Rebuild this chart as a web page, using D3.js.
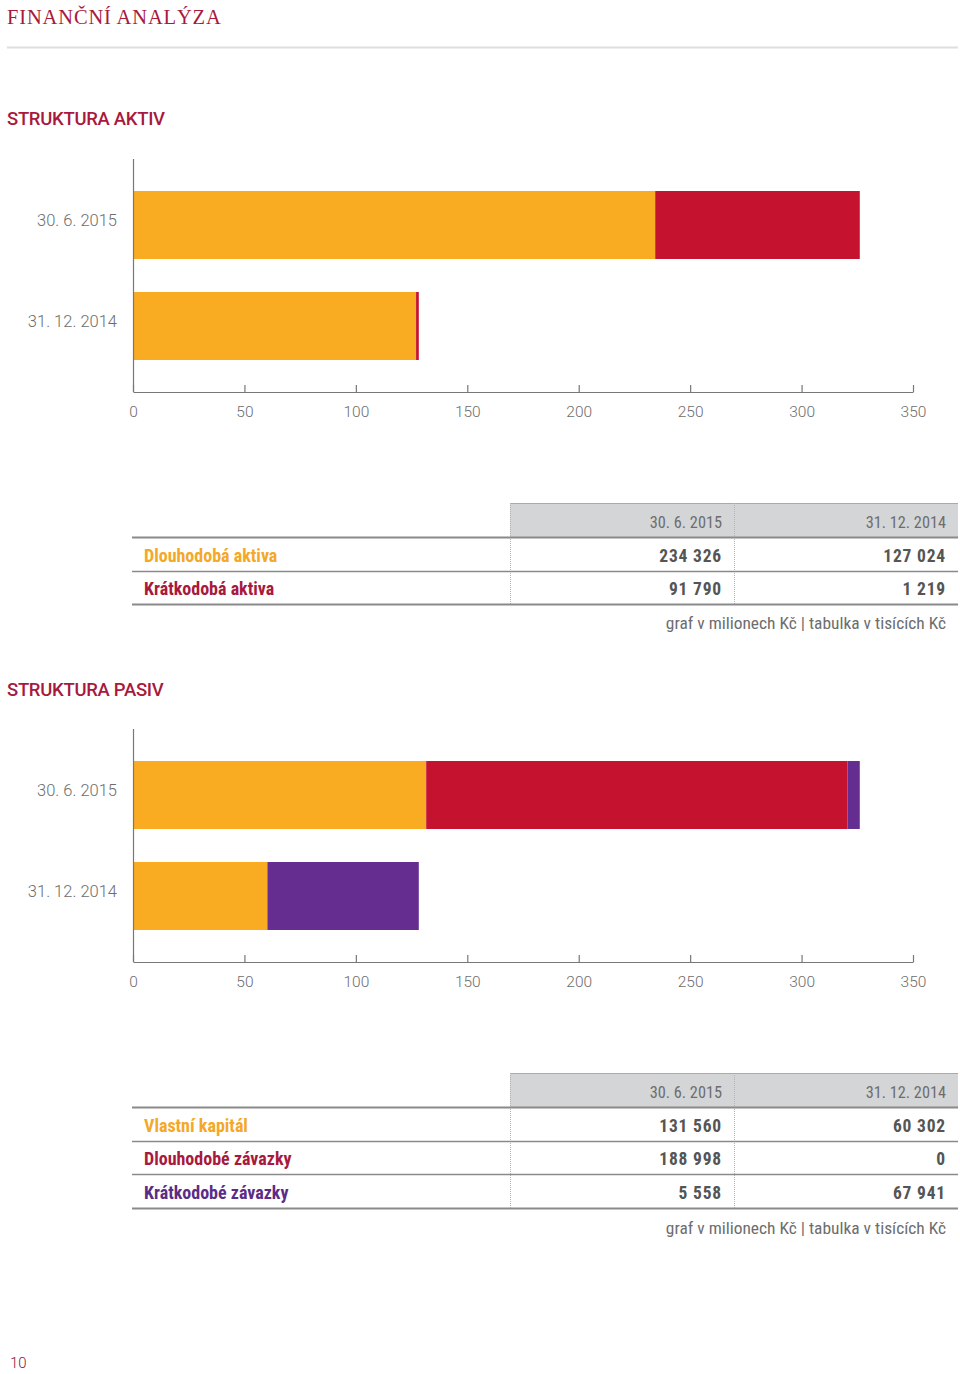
<!DOCTYPE html>
<html><head><meta charset="utf-8">
<script src="https://cdn.jsdelivr.net/npm/d3@7"></script>
<style>
body{margin:0;background:#fff;}
svg{display:block;}
</style></head><body>
<svg id="c" width="960" height="1374"></svg>
<script>
// ---- data ----
const periods = ["30. 6. 2015", "31. 12. 2014"];
const aktivaNames = ["Dlouhodobá aktiva", "Krátkodobá aktiva"];
const aktivaValues = [[234326, 127024], [91790, 1219]]; // tisíce Kč, per series per period
const pasivaNames = ["Vlastní kapitál", "Dlouhodobé závazky", "Krátkodobé závazky"];
const pasivaValues = [[131560, 60302], [188998, 0], [5558, 67941]];
const xTicks = [0, 50, 100, 150, 200, 250, 300, 350];
const colorsAktiva = ["#F9AB21", "#C4122F"];
const colorsPasiva = ["#F9AB21", "#C4122F", "#662D91"];
const labelColors = ["#F3A828", "#A8193D", "#5B2C86"];

const svg = d3.select("#c");
const TITLE = "#A8193D";
const GRAY = "#6d6d6d";
const cond = "'Liberation Sans Narrow','Roboto Condensed','Open Sans',sans-serif";

svg.append("text").attr("x", 7).attr("y", 24).text("FINANČNÍ ANALÝZA")
  .attr("font-family", "'Liberation Serif','DejaVu Serif',serif").attr("font-size", 20.5)
  .attr("letter-spacing", 0.85).attr("fill", TITLE);
svg.append("line").attr("x1", 7).attr("x2", 958).attr("y1", 47.5).attr("y2", 47.5)
  .attr("stroke", "#dedede").attr("stroke-width", 2);

function section(title, titleY, chartTop, names, values, colors, tableTop, footY) {
  svg.append("text").attr("x", 7).attr("y", titleY).text(title)
    .attr("font-family", "Roboto, sans-serif").attr("font-weight", 500).attr("font-size", 18.5)
    .attr("letter-spacing", -0.3).attr("fill", TITLE);

  const axisY = chartTop + 233;
  const x = d3.scaleLinear().domain([0, 350]).range([133, 913]);
  const y = d3.scaleBand().domain(periods).range([chartTop, axisY]).paddingInner(0.327).paddingOuter(0.317);
  const g = svg.append("g");

  // stacked data in millions
  const rows = periods.map((p, i) => {
    const o = { period: p };
    names.forEach((n, k) => o[n] = values[k][i] / 1000);
    return o;
  });
  const stack = d3.stack().keys(names)(rows);
  stack.forEach((layer, k) => {
    g.selectAll(null).data(layer).enter().append("rect")
      .attr("x", d => x(d[0])).attr("width", d => x(d[1]) - x(d[0]))
      .attr("y", d => y(d.data.period)).attr("height", y.bandwidth())
      .attr("fill", colors[k]);
  });

  // y axis line
  g.append("line").attr("x1", 133.5).attr("x2", 133.5).attr("y1", chartTop).attr("y2", axisY)
    .attr("stroke", "#777").attr("stroke-width", 1.2);
  periods.forEach(p => {
    g.append("text").attr("x", 117).attr("y", y(p) + y.bandwidth() / 2 + 1).attr("text-anchor", "end")
      .text(p).attr("font-family", "Roboto, sans-serif").attr("font-weight", 300).attr("font-size", 16.5).attr("fill", GRAY);
  });

  // x axis
  const ax = g.append("g").attr("transform", `translate(0,${axisY})`)
    .call(d3.axisBottom(x).tickValues(xTicks).tickSizeInner(-7).tickSizeOuter(0).tickPadding(20));
  ax.select(".domain").attr("stroke", "#777").attr("stroke-width", 1.2);
  ax.selectAll(".tick line").attr("stroke", "#777").attr("stroke-width", 1.2);
  ax.selectAll(".tick text").attr("font-family", "Roboto, sans-serif").attr("font-weight", 300)
    .attr("font-size", 15.5).attr("fill", GRAY).attr("dy", "0.35em").attr("y", 19.5);

  // table
  const t = svg.append("g");
  const hdrH = 34, rowH = 33.6;
  t.append("rect").attr("x", 510).attr("y", tableTop).attr("width", 448).attr("height", hdrH).attr("fill", "#d4d5d7");
  t.append("line").attr("x1", 510).attr("x2", 958).attr("y1", tableTop + 0.5).attr("y2", tableTop + 0.5).attr("stroke", "#aaa");
  const colR = [722, 946];
  periods.forEach((p, i) => {
    t.append("text").attr("x", colR[i]).attr("y", tableTop + 25).attr("text-anchor", "end").text(p)
      .attr("font-family", cond).attr("font-size", 16.3).attr("fill", GRAY);
  });
  const nRows = names.length;
  const bodyTop = tableTop + hdrH;
  // dotted separators
  [510.5, 734.5].forEach(xx => {
    t.append("line").attr("x1", xx).attr("x2", xx).attr("y1", tableTop).attr("y2", bodyTop + nRows * rowH)
      .attr("stroke", "#b5b5b5").attr("stroke-dasharray", "1,1");
  });
  for (let r = 0; r <= nRows; r++) {
    const ly = Math.round(bodyTop + r * rowH) + 0.5;
    t.append("line").attr("x1", 132).attr("x2", 958).attr("y1", ly).attr("y2", ly)
      .attr("stroke", "#8a8a8a").attr("stroke-width", r === 0 || r === nRows ? 2 : 1.5);
  }
  const fmt = v => d3.format(",")(v).replace(/,/g, " ");
  names.forEach((n, k) => {
    const cy = bodyTop + k * rowH + 24.5;
    t.append("text").attr("x", 144).attr("y", cy).text(n)
      .attr("font-family", cond).attr("font-weight", 700).attr("font-size", 18).attr("fill", labelColors[k]);
    values[k].forEach((v, i) => {
      t.append("text").attr("x", colR[i]).attr("y", cy).attr("text-anchor", "end").text(fmt(v))
        .attr("font-family", cond).attr("font-weight", 700).attr("font-size", 17.5).attr("fill", "#555")
        .attr("letter-spacing", 0.8);
    });
  });
  t.append("text").attr("x", 946).attr("y", footY).attr("text-anchor", "end")
    .text("graf v milionech Kč | tabulka v tisících Kč")
    .attr("font-family", cond).attr("font-size", 17.4).attr("fill", GRAY);
}

section("STRUKTURA AKTIV", 125, 159, aktivaNames, aktivaValues, colorsAktiva, 503, 629);
section("STRUKTURA PASIV", 696, 729, pasivaNames, pasivaValues, colorsPasiva, 1073, 1234);

svg.append("text").attr("x", 10).attr("y", 1368).text("10")
  .attr("font-family", "Roboto, sans-serif").attr("font-weight", 300).attr("font-size", 15).attr("fill", "#8a1538");
</script>
</body></html>
